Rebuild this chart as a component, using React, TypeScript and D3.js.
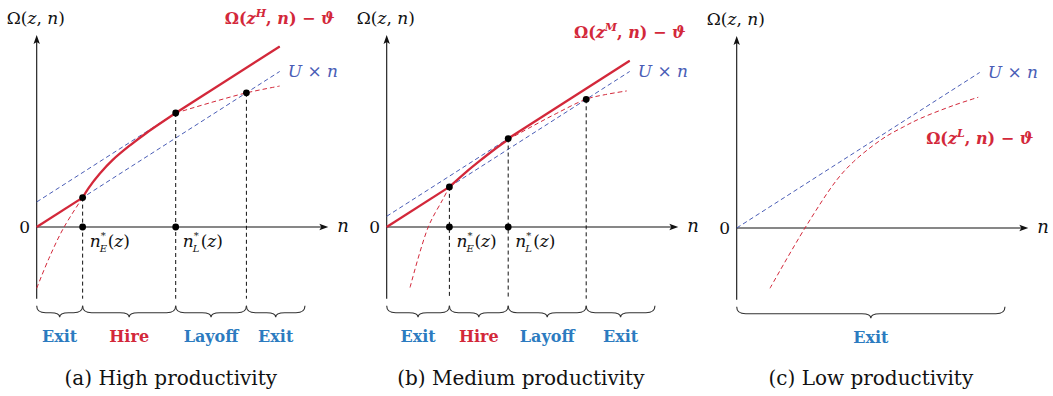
import React from "react";
import * as d3 from "d3";

// ---- chart data (model units: n = employment, Ω = value) ----
const captions = ["(a) High productivity", "(b) Medium productivity", "(c) Low productivity"];
const productivitySup = ["H", "M", "L"];
const unemploymentSlope = 0.64; // U
const layoffIntercepts = [1.03, 0.44];
const nEntry = [1.89, 2.58];
const nLayoff = [5.72, 5.0];
const nExitUpper = [8.63, 8.21];
const nEnd = 10;
const nBraceEnd = 11.04;

// Ω(z, n) − ϑ sampled along n
const omegaHighHire: [number, number][] = [
  [0, -2.52], [0.5, -1.3], [1.1, -0.05], [1.89, 1.21], [2.12, 1.58], [2.6, 2.2],
  [3.15, 2.78], [3.84, 3.36], [4.53, 3.88], [5.72, 4.69],
];
const omegaHighLayoff: [number, number][] = [
  [5.72, 4.69], [7.2, 5.13], [8.63, 5.52], [10.0, 5.8],
];
const omegaMediumHire: [number, number][] = [
  [0.96, -2.49], [1.71, 0], [2.3, 1.12], [2.58, 1.65], [3.29, 2.28], [3.84, 2.73],
  [4.39, 3.16], [5.0, 3.6],
];
const omegaMediumLayoff: [number, number][] = [
  [5.0, 3.6], [6.0, 4.15], [7.0, 4.68], [8.21, 5.26], [9.0, 5.45], [9.88, 5.6],
];
const omegaLow: [number, number][] = [
  [1.37, -2.48], [2.81, 0], [4.12, 1.98], [4.8, 2.72], [5.49, 3.3], [6.17, 3.78],
  [6.86, 4.16], [7.54, 4.5], [8.91, 5.04], [9.94, 5.38],
];
const regionLabels = [
  ["Exit", "Hire", "Layoff", "Exit"],
  ["Exit", "Hire", "Layoff", "Exit"],
  ["Exit"],
];

// ---- styling ----
const RED = "#d3283a";
const BLUE_LINE = "#4a5db6";
const BLUE_TEXT = "#2c7bc0";
const INK = "#111";
const SERIF = "'DejaVu Serif', 'Liberation Serif', serif";

const PX_PER_UNIT = 24.3;
const origins = [
  { x: 36.7, y: 227 },
  { x: 386.7, y: 227 },
  { x: 736.7, y: 228 },
];
const Y_MIN = -2.95;
const Y_MAX = 7.9;
const X_AXIS_MAX = 12;

function bracePath(x1: number, x2: number, yTop: number) {
  const yMid = yTop + 7;
  const yTip = yTop + 11.5;
  const xm = (x1 + x2) / 2;
  const q = Math.min(9, (x2 - x1) / 4);
  return `M${x1},${yTop} Q${x1},${yMid} ${x1 + q},${yMid} L${xm - q},${yMid} Q${xm},${yMid} ${xm},${yTip} Q${xm},${yMid} ${xm + q},${yMid} L${x2 - q},${yMid} Q${x2},${yMid} ${x2},${yTop}`;
}

function OmegaLabel({ x, y, sup }: { x: number; y: number; sup: string }) {
  return (
    <text x={x} y={y} fill={RED} fontFamily={SERIF} fontWeight="bold" fontSize={16} textAnchor="middle">
      <tspan>Ω(</tspan>
      <tspan fontStyle="italic">z</tspan>
      <tspan fontStyle="italic" fontSize={11} dy={-7}>{sup}</tspan>
      <tspan dy={7}>, </tspan>
      <tspan fontStyle="italic">n</tspan>
      <tspan>) − </tspan>
      <tspan fontStyle="italic">ϑ</tspan>
    </text>
  );
}

function NStarLabel({ x, y, sub }: { x: number; y: number; sub: string }) {
  return (
    <g fontFamily={SERIF} fill={INK}>
      <text x={x} y={y} fontSize={17} fontStyle="italic">n</text>
      <text x={x + 11} y={y - 8} fontSize={10}>*</text>
      <text x={x + 10} y={y + 5} fontSize={10} fontStyle="italic">{sub}</text>
      <text x={x + 18} y={y} fontSize={17}>
        <tspan>(</tspan>
        <tspan fontStyle="italic">z</tspan>
        <tspan>)</tspan>
      </text>
    </g>
  );
}

function Panel({ idx }: { idx: number }) {
  const o = origins[idx];
  const x = d3.scaleLinear().domain([0, 1]).range([o.x, o.x + PX_PER_UNIT]);
  const y = d3.scaleLinear().domain([0, 1]).range([o.y, o.y - PX_PER_UNIT]);
  const line = d3
    .line<[number, number]>()
    .x((d) => x(d[0]))
    .y((d) => y(d[1]))
    .curve(d3.curveCatmullRom.alpha(0.5));
  const straight = d3
    .line<[number, number]>()
    .x((d) => x(d[0]))
    .y((d) => y(d[1]));

  const U = unemploymentSlope;
  const dashBlue = { stroke: BLUE_LINE, strokeWidth: 1, strokeDasharray: "4.5 3", fill: "none" };
  const dashRed = { stroke: RED, strokeWidth: 1, strokeDasharray: "4.5 3", fill: "none" };
  const solidRed = { stroke: RED, strokeWidth: 2.3, fill: "none", strokeLinejoin: "round" as const };

  const marks: React.ReactNode[] = [];
  let boundaries: number[] = [0, nBraceEnd];

  if (idx < 2) {
    const nE = nEntry[idx];
    const nL = nLayoff[idx];
    const nX = nExitUpper[idx];
    const b = layoffIntercepts[idx];
    const hire = idx === 0 ? omegaHighHire : omegaMediumHire;
    const layoff = idx === 0 ? omegaHighLayoff : omegaMediumLayoff;
    const lower = hire.filter((d) => d[0] <= nE);
    const upper = hire.filter((d) => d[0] >= nE);
    boundaries = [0, nE, nL, nX, nBraceEnd];

    marks.push(
      <g key="lines">
        {/* U × n and its parallel through the layoff point */}
        <path d={straight([[0, 0], [nEnd, U * nEnd]]) || ""} {...dashBlue} />
        <path d={straight([[0, b], [nEnd, U * nEnd + b]]) || ""} {...dashBlue} />
        {/* Ω(z, n) − ϑ outside the active regions */}
        <path d={line(lower) || ""} {...dashRed} />
        <path d={line(layoff) || ""} {...dashRed} />
        {/* vertical guides */}
        {[nE, nL, nX].map((n, i) => (
          <line
            key={i}
            x1={x(n)}
            x2={x(n)}
            y1={y(i === 1 ? U * n + b : U * n)}
            y2={y(Y_MIN)}
            stroke={INK}
            strokeWidth={1}
            strokeDasharray="4 3"
          />
        ))}
        {/* value function (solid) */}
        <path d={straight([[0, 0], [nE, U * nE]]) || ""} {...solidRed} />
        <path d={line(upper) || ""} {...solidRed} />
        <path d={straight([[nL, U * nL + b], [nEnd, U * nEnd + b]]) || ""} {...solidRed} />
        {/* points */}
        {[
          [nE, U * nE],
          [nE, 0],
          [nL, U * nL + b],
          [nL, 0],
          [nX, U * nX],
        ].map((p, i) => (
          <circle key={i} cx={x(p[0])} cy={y(p[1])} r={3.4} fill="#000" />
        ))}
        <NStarLabel x={x(nE) + 7} y={y(0) + 20} sub="E" />
        <NStarLabel x={x(nL) + 7} y={y(0) + 20} sub="L" />
        <OmegaLabel x={x(nEnd)} y={idx === 0 ? 24 : 38} sup={productivitySup[idx]} />
      </g>
    );
  } else {
    marks.push(
      <g key="lines">
        <path d={straight([[0, 0], [nEnd, U * nEnd]]) || ""} {...dashBlue} />
        <path d={line(omegaLow) || ""} {...dashRed} />
        <OmegaLabel x={x(nEnd)} y={144} sup={productivitySup[idx]} />
      </g>
    );
  }

  const braceTop = y(Y_MIN) + 7;
  const labels = regionLabels[idx];
  const cx = (x(0) + x(nBraceEnd)) / 2;

  return (
    <g>
      {/* axes */}
      <line x1={x(0)} x2={x(0)} y1={y(Y_MIN)} y2={y(Y_MAX) + 6} stroke={INK} strokeWidth={1.1} />
      <path d={`M${x(0)},${y(Y_MAX)} l-3.2,9 l3.2,-2 l3.2,2 z`} fill={INK} />
      <line x1={x(0)} x2={x(X_AXIS_MAX) - 6} y1={y(0)} y2={y(0)} stroke={INK} strokeWidth={1.1} />
      <path d={`M${x(X_AXIS_MAX)},${y(0)} l-9,-3.2 l2,3.2 l-2,3.2 z`} fill={INK} />
      <text x={x(0) - 12} y={y(0) + 6} fontFamily={SERIF} fontSize={17} textAnchor="middle" fill={INK}>0</text>
      <text x={x(X_AXIS_MAX) + 9} y={y(0) + 5} fontFamily={SERIF} fontSize={18} fontStyle="italic" fill={INK}>n</text>
      <text x={x(0) - 30} y={y(Y_MAX) - 11} fontFamily={SERIF} fontSize={17} fill={INK}>
        <tspan>Ω(</tspan>
        <tspan fontStyle="italic">z</tspan>
        <tspan>, </tspan>
        <tspan fontStyle="italic">n</tspan>
        <tspan>)</tspan>
      </text>
      <text x={x(nEnd) + 8} y={y(U * nEnd) + 6} fontFamily={SERIF} fontSize={17} fill={BLUE_LINE}>
        <tspan fontStyle="italic">U</tspan>
        <tspan> × </tspan>
        <tspan fontStyle="italic">n</tspan>
      </text>
      {marks}
      {/* region braces */}
      {labels.map((lab, i) => {
        const x1 = x(boundaries[i]);
        const x2 = x(boundaries[i + 1]);
        return (
          <g key={i}>
            <path d={bracePath(x1, x2, braceTop)} fill="none" stroke="#333" strokeWidth={1.1} />
            <text
              x={(x1 + x2) / 2}
              y={braceTop + 36}
              textAnchor="middle"
              fontFamily={SERIF}
              fontWeight="bold"
              fontSize={16}
              fill={lab === "Hire" ? RED : BLUE_TEXT}
            >
              {lab}
            </text>
          </g>
        );
      })}
      <text x={cx} y={385} textAnchor="middle" fontFamily={SERIF} fontSize={20} fill={INK}>
        {captions[idx]}
      </text>
    </g>
  );
}

export default function App() {
  return (
    <svg
      width={1053}
      height={396}
      viewBox="0 0 1053 396"
      style={{ position: "absolute", left: 0, top: 0, background: "#fff" }}
    >
      <rect width={1053} height={396} fill="#fff" />
      {[0, 1, 2].map((i) => (
        <Panel key={i} idx={i} />
      ))}
    </svg>
  );
}
